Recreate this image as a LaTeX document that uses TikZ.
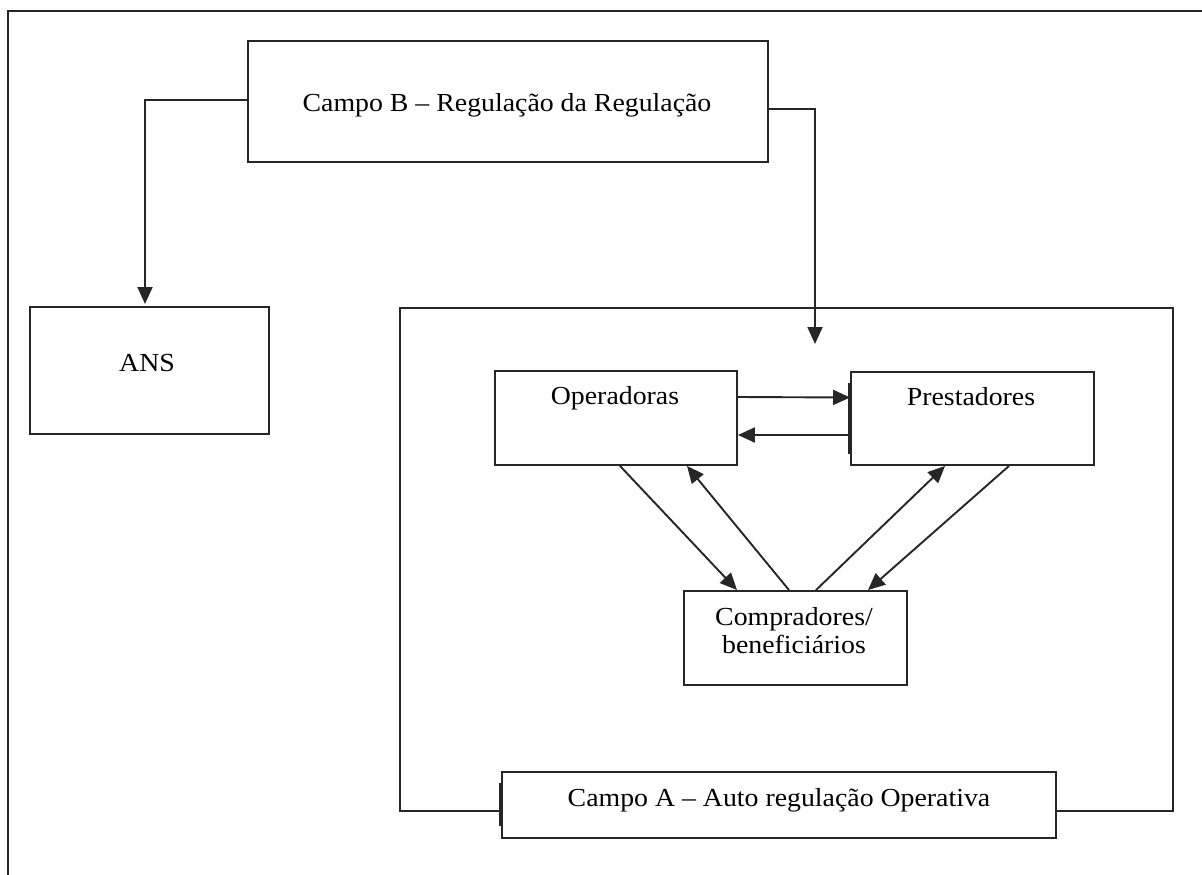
\documentclass[tikz,border=0pt]{standalone}
\usepackage{fontspec}
\setmainfont{Liberation Serif}[FakeStretch=1.07]
\usetikzlibrary{arrows.meta}
\begin{document}
\begin{tikzpicture}[x=1pt,y=-1pt,
  box/.style={draw=black!85, line width=1.9pt, fill=white, inner sep=0pt, anchor=center},
  lbl/.style={font=\fontsize{26}{30}\selectfont, inner sep=0pt, anchor=center, align=center},
  arr/.style={draw=black!85, line width=1.9pt, -{Triangle[length=17pt,width=15pt]}},
  ln/.style={draw=black!85, line width=1.9pt}]
\useasboundingbox (0,0) rectangle (1202,875);
\clip (0,0) rectangle (1202,875);
\fill[white] (0,0) rectangle (1202,875);
% outer frame
\draw[ln] (8,11) rectangle (1220,900);
% field A outer box
\node[box, fill=none, minimum width=773pt, minimum height=503pt] (fieldA) at (786.5,559.5) {};
% boxes
\node[box, minimum width=520pt, minimum height=121pt] (B) at (508,101.5) {};
\node[lbl] (Bt) at (507,105) {Campo B -- Regulação da Regulação};
\node[box, minimum width=239pt, minimum height=127pt] (ANS) at (149.5,370.5) {};
\node[lbl] (ANSt) at (147,363) {ANS};
\node[box, minimum width=242pt, minimum height=94pt] (op) at (616,418) {};
\node[lbl] (opt) at (615,398) {Operadoras};
\node[box, minimum width=243pt, minimum height=93pt] (pr) at (972.5,418.5) {};
\node[lbl] (prt) at (971,397) {Prestadores};
\node[box, minimum width=223pt, minimum height=94pt] (cp) at (795.5,638) {};
\node[lbl] (cpt) at (794,631) {Compradores/\\[-2pt]beneficiários};
\node[box, minimum width=554pt, minimum height=66pt] (A) at (779,805) {};
\node[lbl] (At) at (779,800) {Campo A -- Auto regulação Operativa};
% thick edge marks
\draw[line width=3.5pt, black!85] ([yshift=35.5pt]pr.west) -- ([yshift=-35.5pt]pr.west);
\draw[line width=3.5pt, black!85] ([yshift=22pt]A.west) -- ([yshift=-21pt]A.west);
% connectors from B
\coordinate (ansTip) at (145,304);
\coordinate (aTip) at (815,344);
\draw[arr] ([yshift=1.5pt]B.west) -| (ansTip);
\draw[arr] ([yshift=-7.5pt]B.east) -| (aTip);
% operadoras <-> prestadores
\draw[arr] ([yshift=21pt]op.east) -- ([yshift=21pt]pr.west);
\draw[arr] ([yshift=-16.5pt]pr.west) -- ([yshift=-17pt]op.east);
% diagonals
\draw[arr] ([xshift=4pt]op.south) -- ([xshift=-58.5pt]cp.north);
\draw[arr] ([xshift=-6.5pt]cp.north) -- ([xshift=71pt]op.south);
\draw[arr] ([xshift=20.5pt]cp.north) -- ([xshift=-27.5pt]pr.south);
\draw[arr] ([xshift=36.5pt]pr.south) -- ([xshift=72.5pt]cp.north);
\end{tikzpicture}
\end{document}
